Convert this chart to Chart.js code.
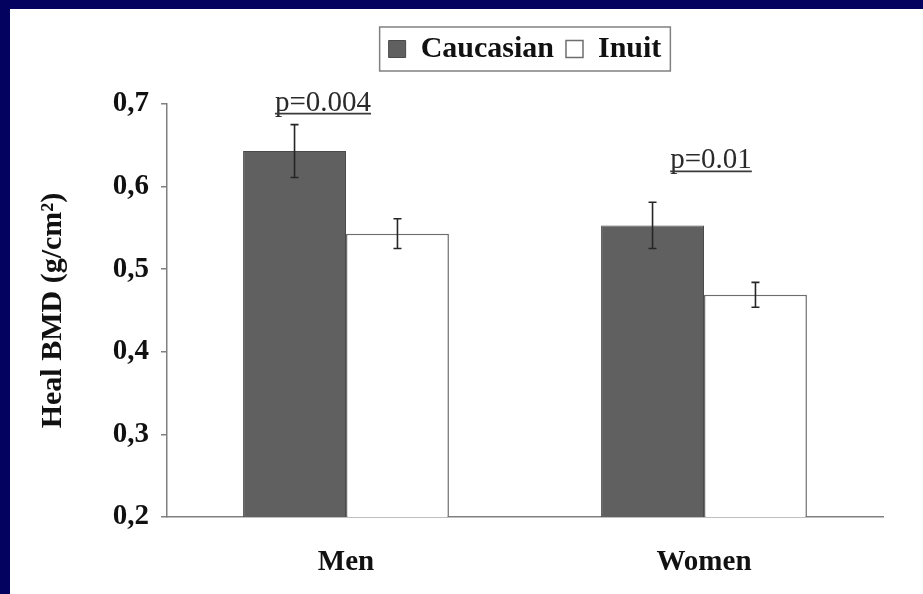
<!DOCTYPE html>
<html>
<head>
<meta charset="utf-8">
<script src="https://cdn.jsdelivr.net/npm/chart.js@4/dist/chart.umd.min.js"></script>
<style>
  html, body { margin: 0; padding: 0; background: #ffffff; }
  #wrap { width: 923px; height: 594px; position: relative; }
</style>
</head>
<body>
<div id="wrap"><canvas id="bmd" width="923" height="594"></canvas></div>
<script>
// Heel bone mineral density by sex and ethnic group (mean ± SE)
const groups = ['Men', 'Women'];
const seriesNames = ['Caucasian', 'Inuit'];
const caucasianBMD = [0.643, 0.553];
const inuitBMD = [0.543, 0.469];
const caucasianErr = [0.032, 0.028];
const inuitErr = [0.018, 0.015];
const yTickLabels = ['0,2', '0,3', '0,4', '0,5', '0,6', '0,7'];
const pValueLabels = ['p=0.004', 'p=0.01'];

const SERIF = '"Liberation Serif", "Times New Roman", serif';
const NAVY = '#03035f';

// Navy strips along the top and left edges of the slide
const slideFrame = {
  id: 'slideFrame',
  beforeDraw(chart) {
    const ctx = chart.ctx;
    ctx.save();
    ctx.fillStyle = '#ffffff';
    ctx.fillRect(0, 0, chart.width, chart.height);
    ctx.fillStyle = NAVY;
    ctx.fillRect(0, 0, chart.width, 9);
    ctx.fillRect(0, 0, 10, chart.height);
    ctx.restore();
  }
};

// Extra room under the legend, plus a border drawn around its items
const legendBox = {
  id: 'legendBox',
  beforeLayout(chart) {
    const lg = chart.legend;
    if (lg && !lg._extraSpace) {
      const fit = lg.fit.bind(lg);
      lg.fit = function () { fit(); this.height += 30; };
      lg._extraSpace = true;
    }
  },
  afterDraw(chart) {
    const lg = chart.legend;
    if (!lg || !lg.legendHitBoxes || !lg.legendHitBoxes.length) return;
    const hb = lg.legendHitBoxes;
    const first = hb[0], last = hb[hb.length - 1];
    const x0 = first.left - 9, x1 = last.left + last.width + 9;
    const y0 = first.top - 7, y1 = first.top + first.height + 7;
    const ctx = chart.ctx;
    ctx.save();
    ctx.strokeStyle = '#808080';
    ctx.lineWidth = 1.5;
    ctx.strokeRect(x0, y0, x1 - x0, y1 - y0);
    ctx.restore();
  }
};

// Error bars and underlined p-values
const annotations = {
  id: 'annotations',
  afterDatasetsDraw(chart, args, opts) {
    const ctx = chart.ctx;
    const y = chart.scales.y;
    const x = chart.scales.x;
    const errs = [caucasianErr, inuitErr];
    const vals = [caucasianBMD, inuitBMD];
    ctx.save();
    errs.forEach((errArr, di) => {
      const meta = chart.getDatasetMeta(di);
      meta.data.forEach((bar, j) => {
        const top = y.getPixelForValue(vals[di][j] + errArr[j]);
        const bot = y.getPixelForValue(vals[di][j] - errArr[j]);
        ctx.strokeStyle = '#262626';
        ctx.lineWidth = 1.6;
        ctx.beginPath();
        ctx.moveTo(bar.x, top); ctx.lineTo(bar.x, bot);
        ctx.moveTo(bar.x - 4, top); ctx.lineTo(bar.x + 4, top);
        ctx.moveTo(bar.x - 4, bot); ctx.lineTo(bar.x + 4, bot);
        ctx.stroke();
      });
    });
    ctx.font = '29px ' + SERIF;
    ctx.fillStyle = '#2a2a2a';
    ctx.textAlign = 'center';
    ctx.textBaseline = 'alphabetic';
    pValueLabels.forEach((txt, j) => {
      const place = opts.places[j];
      const cx = x.getPixelForValue(j) + place.dx;
      const base = y.getPixelForValue(place.level);
      ctx.fillText(txt, cx, base);
      const w = ctx.measureText(txt).width;
      ctx.strokeStyle = '#3a3a3a';
      ctx.lineWidth = 1.8;
      ctx.beginPath();
      ctx.moveTo(cx - w / 2, base + 3);
      ctx.lineTo(cx + w / 2, base + 3);
      ctx.stroke();
    });
    ctx.restore();
  }
};

new Chart(document.getElementById('bmd'), {
  type: 'bar',
  data: {
    labels: groups,
    datasets: [
      {
        label: seriesNames[0],
        data: caucasianBMD,
        backgroundColor: '#606060',
        borderColor: '#4a4a4a',
        borderWidth: 1
      },
      {
        label: seriesNames[1],
        data: inuitBMD,
        backgroundColor: '#ffffff',
        borderColor: '#6e6e6e',
        borderWidth: 1.5
      }
    ]
  },
  options: {
    responsive: false,
    animation: false,
    devicePixelRatio: 1,
    layout: { padding: { left: 10, right: 40, top: 22, bottom: 15 } },
    datasets: { bar: { barPercentage: 1, categoryPercentage: 0.575 } },
    plugins: {
      legend: {
        position: 'top',
        fullSize: false,
        labels: {
          color: '#111111',
          font: { family: SERIF, size: 30, weight: 'bold' },
          boxWidth: 17,
          boxHeight: 17,
          padding: 12
        }
      },
      tooltip: { enabled: false },
      annotations: {
        places: [
          { level: 0.692, dx: -23 },
          { level: 0.622, dx: 7 }
        ]
      }
    },
    scales: {
      x: {
        grid: { display: false },
        border: { display: true, color: '#808080', width: 1.5 },
        ticks: {
          color: '#111111',
          font: { family: SERIF, size: 29, weight: 'bold' },
          padding: 20
        },
        afterFit(scale) { scale.height = 62; }
      },
      y: {
        min: 0.2,
        max: 0.7,
        grid: { display: true, drawOnChartArea: false, drawTicks: true, tickLength: 6, color: '#808080', lineWidth: 1.5 },
        border: { display: true, color: '#808080', width: 1.5 },
        ticks: {
          stepSize: 0.1,
          padding: 12,
          color: '#111111',
          font: { family: SERIF, size: 29, weight: 'bold' },
          callback: (v, i) => yTickLabels[i]
        },
        title: {
          display: true,
          text: 'Heal BMD (g/cm²)',
          color: '#111111',
          font: { family: SERIF, size: 30, weight: 'bold' },
          padding: { top: 25, bottom: 0 }
        },
        afterFit(scale) { scale.width = 157; }
      }
    }
  },
  plugins: [slideFrame, legendBox, annotations]
});
</script>
</body>
</html>
